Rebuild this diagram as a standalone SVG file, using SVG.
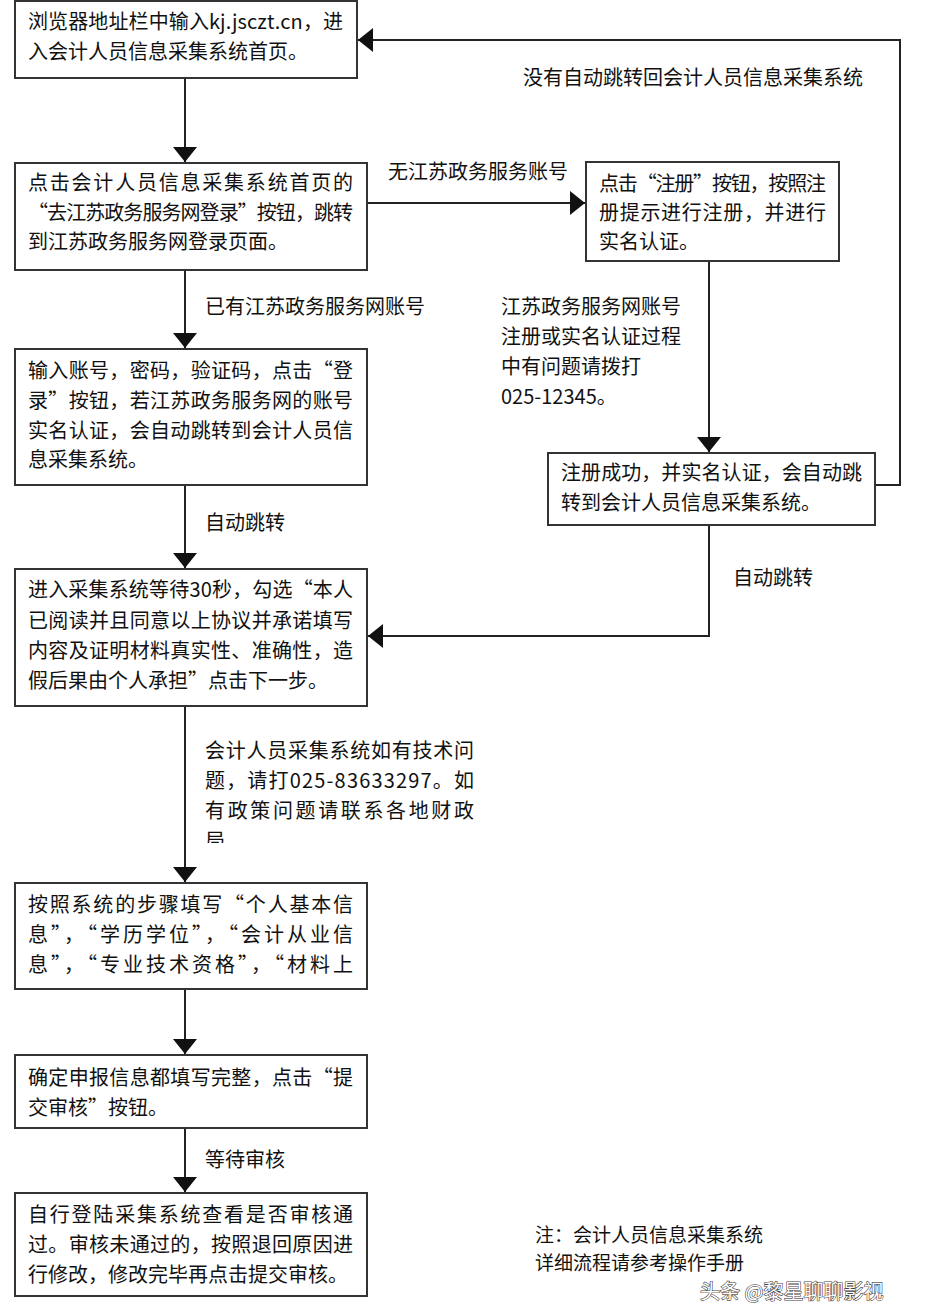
<svg xmlns="http://www.w3.org/2000/svg" width="936" height="1304" viewBox="0 0 936 1304">
<style>
.box{fill:#fff;stroke:#333;stroke-width:2}
.t{font-family:"Noto Sans CJK SC","Noto Sans",sans-serif;font-size:20px;fill:#111}
.c{fill:none;stroke:#222;stroke-width:2}
.wm{font-family:"Noto Sans CJK SC",sans-serif;font-size:20px;fill:#fff;stroke:#444;stroke-width:1.2;paint-order:stroke}
</style>
<defs>
<marker id="ah" markerUnits="userSpaceOnUse" markerWidth="16" markerHeight="24" refX="15" refY="12" orient="auto">
<path d="M0,0 L15,12 L0,24 z" fill="#111"/>
</marker>
<clipPath id="clip7"><rect x="0" y="884" width="400" height="98"/></clipPath>
<clipPath id="clipL"><rect x="190" y="720" width="300" height="123"/></clipPath>
</defs>
<rect width="936" height="1304" fill="#fff"/>
<g id="connectors">
<path class="c" d="M185,78 V162" marker-end="url(#ah)"/>
<path class="c" d="M367,203 H585" marker-end="url(#ah)"/>
<path class="c" d="M185,270 V348" marker-end="url(#ah)"/>
<path class="c" d="M709,261 V452" marker-end="url(#ah)"/>
<path class="c" d="M875,485 H900 V40 H358" marker-end="url(#ah)"/>
<path class="c" d="M709,525 V636 H368" marker-end="url(#ah)"/>
<path class="c" d="M185,485 V568" marker-end="url(#ah)"/>
<path class="c" d="M185,706 V882" marker-end="url(#ah)"/>
<path class="c" d="M185,989 V1054" marker-end="url(#ah)"/>
<path class="c" d="M185,1128 V1192" marker-end="url(#ah)"/>
<text class="t" x="388" y="179">无江苏政务服务账号</text>
<text class="t" x="205" y="314">已有江苏政务服务网账号</text>
<text class="t" x="501" y="314">江苏政务服务网账号</text>
<text class="t" x="501" y="344">注册或实名认证过程</text>
<text class="t" x="501" y="374">中有问题请拨打</text>
<text class="t" x="501" y="404">025-12345。</text>
<text class="t" x="523" y="85">没有自动跳转回会计人员信息采集系统</text>
<text class="t" x="733" y="585">自动跳转</text>
<text class="t" x="205" y="530">自动跳转</text>
<g clip-path="url(#clipL)">
<text class="t" x="205" y="758" textLength="269" lengthAdjust="spacing">会计人员采集系统如有技术问</text>
<text class="t" x="205" y="788" textLength="269" lengthAdjust="spacing">题，请打025-83633297。如</text>
<text class="t" x="205" y="818" textLength="269" lengthAdjust="spacing">有政策问题请联系各地财政</text>
<text class="t" x="205" y="848">局。</text>
</g>
<text class="t" x="205" y="1167">等待审核</text>
</g>
<g id="n1">
<rect class="box" x="15" y="1" width="342" height="77"/>
<text class="t" x="28" y="29" textLength="315" lengthAdjust="spacing">浏览器地址栏中输入kj.jsczt.cn，进</text>
<text class="t" x="28" y="59">入会计人员信息采集系统首页。</text>
</g>
<g id="n2">
<rect class="box" x="15" y="163" width="352" height="107"/>
<text class="t" x="28" y="190" textLength="325" lengthAdjust="spacing">点击会计人员信息采集系统首页的</text>
<text class="t" x="28" y="220" textLength="325" lengthAdjust="spacing">“去江苏政务服务网登录”按钮，跳转</text>
<text class="t" x="28" y="249">到江苏政务服务网登录页面。</text>
</g>
<g id="n3">
<rect class="box" x="586" y="162" width="253" height="99"/>
<text class="t" x="599" y="191" textLength="227" lengthAdjust="spacing">点击“注册”按钮，按照注</text>
<text class="t" x="599" y="220" textLength="227" lengthAdjust="spacing">册提示进行注册，并进行</text>
<text class="t" x="599" y="249">实名认证。</text>
</g>
<g id="n4">
<rect class="box" x="15" y="349" width="352" height="136"/>
<text class="t" x="28" y="378" textLength="325" lengthAdjust="spacing">输入账号，密码，验证码，点击“登</text>
<text class="t" x="28" y="408" textLength="325" lengthAdjust="spacing">录”按钮，若江苏政务服务网的账号</text>
<text class="t" x="28" y="438" textLength="325" lengthAdjust="spacing">实名认证，会自动跳转到会计人员信</text>
<text class="t" x="28" y="467">息采集系统。</text>
</g>
<g id="n5">
<rect class="box" x="548" y="453" width="327" height="72"/>
<text class="t" x="561" y="480" textLength="301" lengthAdjust="spacing">注册成功，并实名认证，会自动跳</text>
<text class="t" x="561" y="510">转到会计人员信息采集系统。</text>
</g>
<g id="n6">
<rect class="box" x="15" y="569" width="352" height="137"/>
<text class="t" x="28" y="597" textLength="325" lengthAdjust="spacing">进入采集系统等待30秒，勾选“本人</text>
<text class="t" x="28" y="628" textLength="325" lengthAdjust="spacing">已阅读并且同意以上协议并承诺填写</text>
<text class="t" x="28" y="658" textLength="325" lengthAdjust="spacing">内容及证明材料真实性、准确性，造</text>
<text class="t" x="28" y="688">假后果由个人承担”点击下一步。</text>
</g>
<g id="n7">
<rect class="box" x="15" y="883" width="352" height="106"/>
<g clip-path="url(#clip7)">
<text class="t" x="28" y="912" textLength="325" lengthAdjust="spacing">按照系统的步骤填写“个人基本信</text>
<text class="t" x="28" y="942" textLength="325" lengthAdjust="spacing">息”，“学历学位”，“会计从业信</text>
<text class="t" x="28" y="972" textLength="325" lengthAdjust="spacing">息”，“专业技术资格”，“材料上</text>
<text class="t" x="28" y="1002">传”。</text>
</g>
</g>
<g id="n8">
<rect class="box" x="15" y="1055" width="352" height="73"/>
<text class="t" x="28" y="1085" textLength="325" lengthAdjust="spacing">确定申报信息都填写完整，点击“提</text>
<text class="t" x="28" y="1115">交审核”按钮。</text>
</g>
<g id="n9">
<rect class="box" x="15" y="1193" width="352" height="103"/>
<text class="t" x="28" y="1222" textLength="325" lengthAdjust="spacing">自行登陆采集系统查看是否审核通</text>
<text class="t" x="28" y="1252" textLength="325" lengthAdjust="spacing">过。审核未通过的，按照退回原因进</text>
<text class="t" x="28" y="1282">行修改，修改完毕再点击提交审核。</text>
</g>
<g id="note">
<text class="t" x="535" y="1242" style="font-size:19px">注：会计人员信息采集系统</text>
<text class="t" x="535" y="1270" style="font-size:19px">详细流程请参考操作手册</text>
<text class="wm" x="700" y="1299">头条 @黎星聊聊影视</text>
</g>
</svg>
